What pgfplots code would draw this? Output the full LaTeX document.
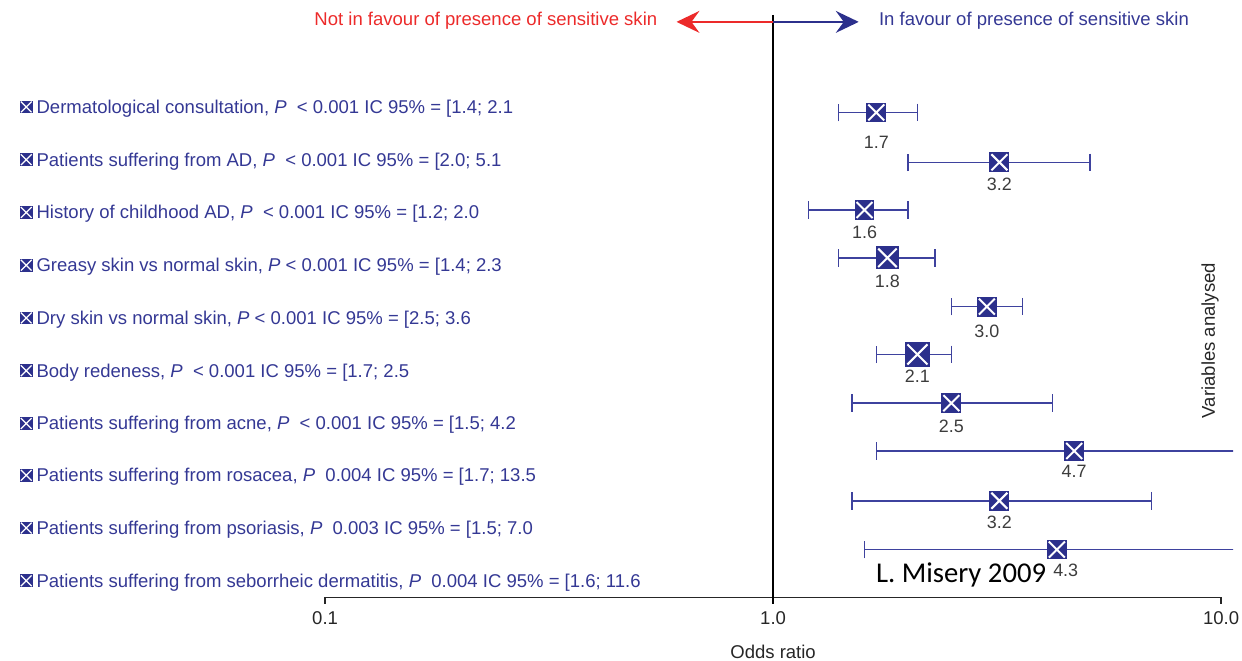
\documentclass[border=0pt]{standalone}
\usepackage{fontspec}
\setmainfont{Liberation Sans}
\newfontfamily\calfont{Carlito}
\usepackage{pgfplots}
\pgfplotsset{compat=1.18}
\usepackage{pgfplotstable}
\usetikzlibrary{arrows.meta}

\definecolor{navy}{RGB}{44,48,140}
\definecolor{lblue}{RGB}{62,66,158}
\definecolor{tblue}{RGB}{52,56,148}
\definecolor{tred}{RGB}{236,42,42}
\definecolor{vgray}{RGB}{60,60,60}
\newcommand\lf{\fontsize{9.3}{11}\selectfont}
\newcommand\vf{\fontsize{9}{10.8}\selectfont}

\pgfdeclareplotmark{sqx}{%
  \pgfpathrectangle{\pgfpoint{-\pgfplotmarksize}{-\pgfplotmarksize}}{\pgfpoint{2\pgfplotmarksize}{2\pgfplotmarksize}}%
  \pgfusepath{fill}%
  \pgfsetstrokecolor{white}\pgfsetlinewidth{1pt}%
  \pgfpathmoveto{\pgfpoint{-0.8\pgfplotmarksize}{-0.8\pgfplotmarksize}}%
  \pgfpathlineto{\pgfpoint{0.8\pgfplotmarksize}{0.8\pgfplotmarksize}}%
  \pgfpathmoveto{\pgfpoint{-0.8\pgfplotmarksize}{0.8\pgfplotmarksize}}%
  \pgfpathlineto{\pgfpoint{0.8\pgfplotmarksize}{-0.8\pgfplotmarksize}}%
  \pgfusepath{stroke}%
}

% odds ratio, 95% CI, row position (px), value-label position (x, px), marker half size (pt)
\pgfplotstableread{
or  lo  hi   ypos labx lab ms
1.7 1.4 2.1  113  1.7  143 5
3.2 2.0 5.1  163  3.2  185 5
1.6 1.2 2.0  211  1.6  233 5
1.8 1.4 2.3  259  1.8  283 5.8
3.0 2.5 3.6  308  3.0  333 5
2.1 1.7 2.5  356  2.1  378 6.3
2.5 1.5 4.2  405  2.5  428 5
4.7 1.7 13.5 453  4.7  473 5
3.2 1.5 7.0  503  3.2  525 5
4.3 1.6 11.6 552  4.5  573 5
}\data

\begin{document}
\newsavebox\bx
\sbox\bx{\tikz[baseline=0pt]{\fill[navy] (0,0) rectangle (6.4pt,6.4pt);
  \draw[white, line width=0.6pt] (0.5pt,0.5pt)--(5.9pt,5.9pt) (0.5pt,5.9pt)--(5.9pt,0.5pt);}}
\begin{tikzpicture}[every node/.style={inner sep=0pt}, font=\lf]
\path[use as bounding box] (0,0) rectangle (621pt,331.5pt);
\begin{axis}[scale only axis, width=616.5pt, height=331.5pt,
  at={(0,0)}, anchor=south west,
  xmode=log, xmin=0.019352, xmax=10.633,
  ymin=0, ymax=663, y dir=reverse,
  axis lines=none, clip mode=individual]
\addplot[only marks, mark=none,
  error bars/.cd, x dir=both, x explicit,
  error bar style={draw=lblue, line width=0.75pt},
  error mark options={draw=lblue, line width=0.75pt, mark size=4.4pt, rotate=90}]
  table[x=or, y=ypos, x error plus expr=\thisrow{hi}-\thisrow{or},
        x error minus expr=\thisrow{or}-\thisrow{lo}] {\data};
\addplot[scatter, only marks, mark=sqx,
  scatter/use mapped color={draw=navy, fill=navy},
  visualization depends on={\thisrow{ms} \as \ms},
  scatter/@pre marker code/.append style={/tikz/mark size=\ms pt}]
  table[x=or, y=ypos] {\data};
\addplot[only marks, mark=none, nodes near coords, point meta=explicit symbolic,
  nodes near coords style={anchor=center, inner sep=0pt, font=\vf, text=vgray}]
  table[x=labx, y=lab, meta=or] {\data};
\draw[black!85, line width=0.7pt] (axis cs:0.1,600) -- (axis cs:10,600);
\draw[black!85, line width=0.7pt] (axis cs:0.1,600) -- (axis cs:0.1,607);
\draw[black!85, line width=0.7pt] (axis cs:10,600) -- (axis cs:10,607);
\draw[black, line width=0.6pt] (axis cs:1,15) -- (axis cs:1,607);
\end{axis}
\begin{scope}[x=0.5pt, y=-0.5pt, shift={(0,331.5pt)}]
\draw[tred, line width=0.8pt, -{Stealth[length=11.5pt, width=11pt, inset=4pt]}] (771,22) -- (674,22);
\draw[navy, line width=0.8pt, -{Stealth[length=11.5pt, width=11pt, inset=4pt]}] (771,22) -- (857,22);
\node[anchor=east, text=tred] at (655,21) {Not in favour of presence of sensitive skin};
\node[anchor=west, text=tblue] at (877,21) {In favour of presence of sensitive skin};
\begin{scope}[every node/.append style={anchor=west, text=tblue}]
\node at (14,109) {\usebox\bx\hspace{2pt}Dermatological consultation, \textit{P}\ \ {<} 0.001 IC 95\% = [1.4; 2.1};
\node at (14,162) {\usebox\bx\hspace{2pt}Patients suffering from AD, \textit{P}\ \ {<} 0.001 IC 95\% = [2.0; 5.1};
\node at (14,215) {\usebox\bx\hspace{2pt}History of childhood AD, \textit{P}\ \ {<} 0.001 IC 95\% = [1.2; 2.0};
\node at (14,268) {\usebox\bx\hspace{2pt}Greasy skin vs normal skin, \textit{P} {<} 0.001 IC 95\% = [1.4; 2.3};
\node at (14,321) {\usebox\bx\hspace{2pt}Dry skin vs normal skin, \textit{P} {<} 0.001 IC 95\% = [2.5; 3.6};
\node at (14,374) {\usebox\bx\hspace{2pt}Body redeness, \textit{P}\ \ {<} 0.001 IC 95\% = [1.7; 2.5};
\node at (14,427) {\usebox\bx\hspace{2pt}Patients suffering from acne, \textit{P}\ \ {<} 0.001 IC 95\% = [1.5; 4.2};
\node at (14,479) {\usebox\bx\hspace{2pt}Patients suffering from rosacea, \textit{P}\ \ 0.004 IC 95\% = [1.7; 13.5};
\node at (14,532) {\usebox\bx\hspace{2pt}Patients suffering from psoriasis, \textit{P}\ \ 0.003 IC 95\% = [1.5; 7.0};
\node at (14,585) {\usebox\bx\hspace{2pt}Patients suffering from seborrheic dermatitis, \textit{P}\ \ 0.004 IC 95\% = [1.6; 11.6};
\end{scope}
\node[rotate=90, text=black!85] at (1210,342) {Variables analysed};
\node[anchor=west, font=\calfont\fontsize{14.4}{17}\selectfont] at (874,578) {L. Misery 2009};
\node[text=black!85] at (321,621) {0.1};
\node[text=black!85] at (771,621) {1.0};
\node[text=black!85] at (1221,621) {10.0};
\node[text=black!85] at (771,655) {Odds ratio};
\end{scope}
\end{tikzpicture}
\end{document}
